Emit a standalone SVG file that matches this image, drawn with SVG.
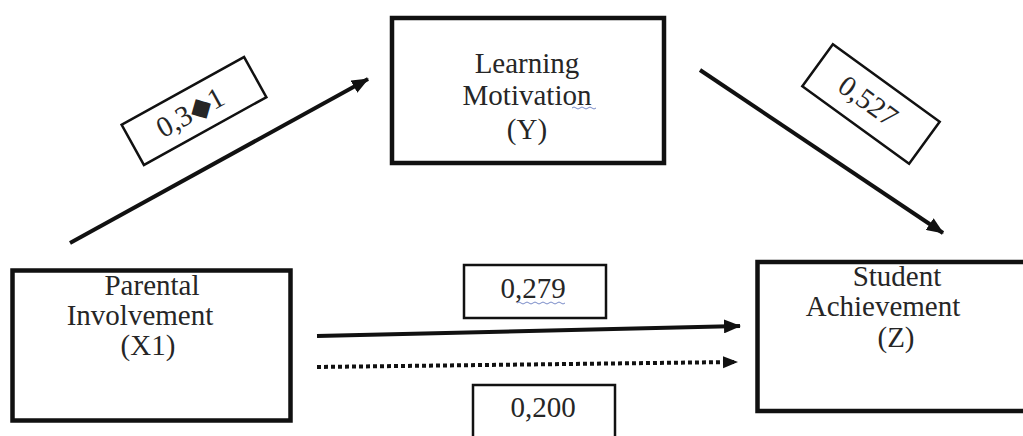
<svg xmlns="http://www.w3.org/2000/svg" width="1023" height="436" viewBox="0 0 1023 436">
<defs>
<marker id="ah" markerUnits="userSpaceOnUse" markerWidth="18" markerHeight="14" refX="16" refY="7" orient="auto">
<path d="M0,0 L17,7 L0,14 Z" fill="#111"/>
</marker>
<marker id="ahs" markerUnits="userSpaceOnUse" markerWidth="16" markerHeight="14" refX="14" refY="7" orient="auto">
<path d="M0,1 L15,7 L0,13 Z" fill="#111"/>
</marker>
</defs>
<style>
.box{fill:#fff;stroke:#111;stroke-width:4.5}
.lbl{fill:#fff;stroke:#111;stroke-width:2.5}
.t{font-family:"Liberation Serif","Times New Roman",serif;font-size:29px;fill:#262626;text-anchor:middle}
.c{fill:none;stroke:#111;stroke-width:4}
.sq{fill:none;stroke:#7a8cc8;stroke-width:1}
</style>
<rect width="1023" height="436" fill="#fff"/>
<g id="connectors">
<line class="c" x1="70" y1="243" x2="368" y2="79" marker-end="url(#ah)"/>
<line class="c" x1="700" y1="70" x2="943" y2="233" marker-end="url(#ah)"/>
<line class="c" x1="317" y1="336" x2="740" y2="326" marker-end="url(#ah)"/>
<line class="c" x1="317" y1="367" x2="737" y2="362" stroke-dasharray="4 3" marker-end="url(#ahs)"/>
</g>
<g id="node-learning">
<rect class="box" x="392" y="18" width="272" height="145"/>
<text class="t" x="527" y="73" font-size="28">Learning</text>
<text class="t" x="527" y="105" font-size="28">Motivation</text>
<path class="sq" d="M572,108 q2,-2 4,0 t4,0 t4,0 t4,0 t4,0 t4,0"/>
<text class="t" x="527" y="139" font-size="28">(Y)</text>
</g>
<g id="node-parental">
<rect class="box" x="12.5" y="270.5" width="278" height="150" stroke-width="5"/>
<text class="t" x="152" y="295">Parental</text>
<text class="t" x="140" y="325">Involvement</text>
<text class="t" x="148" y="355">(X1)</text>
</g>
<g id="node-student">
<rect class="box" x="757.5" y="262" width="330" height="149" stroke-width="5"/>
<text class="t" x="897" y="286">Student</text>
<text class="t" x="883" y="316">Achievement</text>
<text class="t" x="896" y="347">(Z)</text>
</g>
<g id="label-0381" transform="translate(194,111) rotate(-29)">
<rect class="lbl" x="-70" y="-23" width="140" height="46"/>
<text class="t" x="-4" y="9">0,3◆1</text>
</g>
<g id="label-0527" transform="translate(871,104) rotate(36)">
<rect class="lbl" x="-66" y="-26" width="132" height="52"/>
<text class="t" x="-4" y="9">0,527</text>
</g>
<g id="label-0279">
<rect class="lbl" x="464" y="265" width="142" height="53"/>
<text class="t" x="533" y="298">0,279</text>
<path class="sq" d="M517,303 q2,-2 4,0 t4,0 t4,0 t4,0 t4,0 t4,0 t4,0 t4,0 t4,0 t4,0 t4,0 t4,0"/>
</g>
<g id="label-0200">
<rect class="lbl" x="473" y="385" width="142" height="60"/>
<text class="t" x="543" y="417">0,200</text>
</g>
</svg>
